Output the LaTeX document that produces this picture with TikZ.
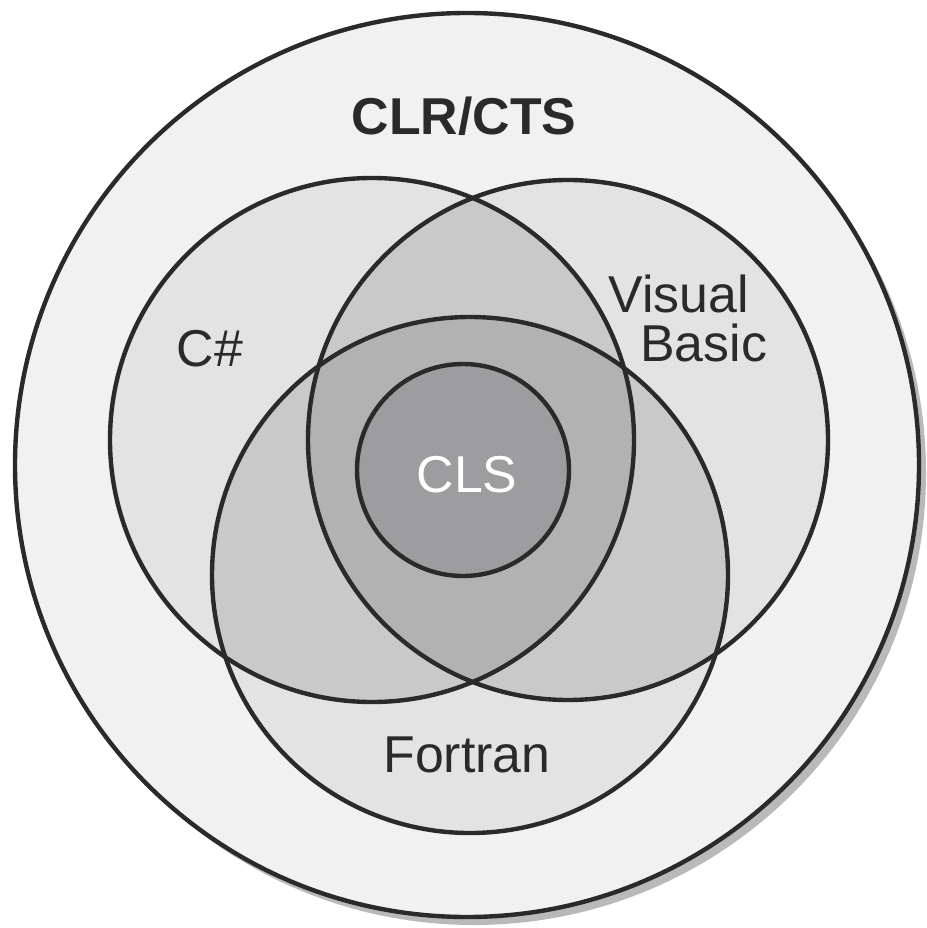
\documentclass[tikz,border=0pt]{standalone}
\usepackage{fontspec}
\setmainfont{Liberation Sans}
\definecolor{bgfill}{HTML}{F1F1F1}
\definecolor{singlefill}{HTML}{E3E3E4}
\definecolor{pairfill}{HTML}{C9C9CA}
\definecolor{triplefill}{HTML}{B2B2B3}
\definecolor{clsfill}{HTML}{9D9D9F}
\definecolor{shadowgray}{HTML}{B9B9B9}
\definecolor{ink}{HTML}{2A2A2A}
\tikzset{
  ring/.style={draw=ink, line width=2.5pt},
  lbl/.style={font=\fontsize{29.5}{30}\selectfont, text=ink, inner sep=0pt},
}
\begin{document}
\begin{tikzpicture}[x=0.02cm, y=-0.02cm]
\useasboundingbox (0,0) rectangle (926,928);
\fill[white] (0,0) rectangle (926,928);
% outer circle with shadow
\fill[shadowgray] (474,473) circle[radius=452];
\fill[bgfill] (467,465) circle[radius=452];
% single regions
\fill[singlefill] (372,440) circle[radius=262];
\fill[singlefill] (568,440) circle[radius=260];
\fill[singlefill] (470,575) circle[radius=258];
% pairwise overlaps
\begin{scope}
  \clip (372,440) circle[radius=262];
  \fill[pairfill] (568,440) circle[radius=260];
  \fill[pairfill] (470,575) circle[radius=258];
\end{scope}
\begin{scope}
  \clip (568,440) circle[radius=260];
  \fill[pairfill] (470,575) circle[radius=258];
\end{scope}
% triple overlap
\begin{scope}
  \clip (372,440) circle[radius=262];
  \clip (568,440) circle[radius=260];
  \fill[triplefill] (470,575) circle[radius=258];
\end{scope}
% CLS
\fill[clsfill] (463,470) circle[radius=106];
% outlines
\draw[ring] (467,465) circle[radius=452];
\draw[ring] (372,440) circle[radius=262];
\draw[ring] (568,440) circle[radius=260];
\draw[ring] (470,575) circle[radius=258];
\draw[ring] (463,470) circle[radius=106];
% labels
\node[lbl, font=\fontsize{29.5}{30}\selectfont\bfseries, anchor=base] (clr) at (464,135) {CLR/CTS};
\node[lbl, anchor=base] (csharp) at (210,367) {C\#};
\node[lbl, anchor=base west] (visual) at (608,313) {Visual};
\node[lbl, anchor=base west] (basic) at (640,362) {Basic};
\node[lbl, anchor=base, text=white] (cls) at (467,492) {CLS};
\node[lbl, anchor=base] (fortran) at (467,772) {Fortran};
\end{tikzpicture}
\end{document}
